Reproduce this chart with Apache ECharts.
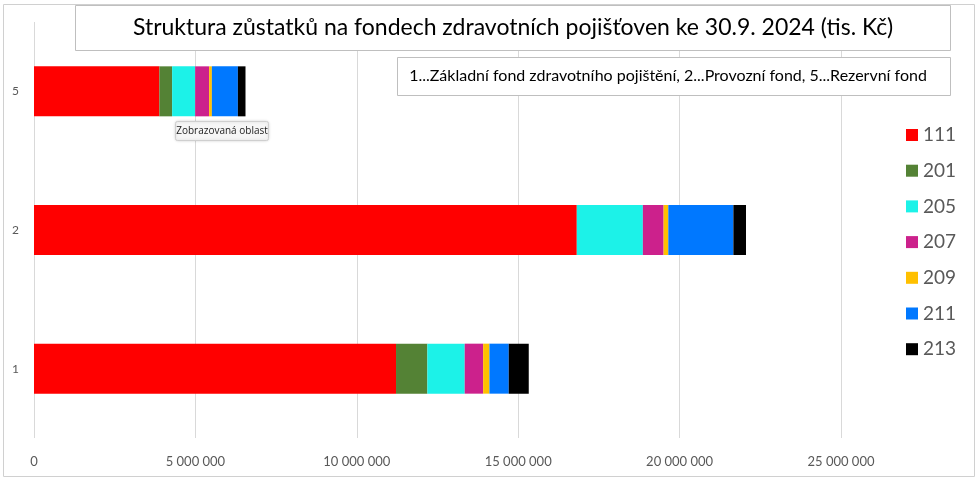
<!DOCTYPE html>
<html>
<head>
<meta charset="utf-8">
<script src="https://cdn.jsdelivr.net/npm/echarts@6/dist/echarts.min.js"></script>
<style>
html,body{margin:0;padding:0;background:#fff;}
#main{width:978px;height:484px;}
</style>
</head>
<body>
<div id="main"></div>
<script>
// Categories (bottom to top)
var categories = ['1', '2', '5'];
// Series names (fund account codes)
var seriesNames = ['111', '201', '205', '207', '209', '211', '213'];
// Values per series, for categories 1, 2, 5 (tis. Kč)
var s111 = [11215000, 16815000, 3885000];
var s201 = [971000, 0, 394000];
var s205 = [1157000, 2047000, 713000];
var s207 = [571000, 642000, 434000];
var s209 = [195000, 146000, 84000];
var s211 = [598000, 2016000, 806000];
var s213 = [620000, 391000, 236000];
// Axis ticks
var xTicks = [0, 5000000, 10000000, 15000000, 20000000, 25000000];

var titleText = 'Struktura zůstatků na fondech zdravotních pojišťoven ke 30.9. 2024 (tis. Kč)';
var noteText = '1...Základní fond zdravotního pojištění, 2...Provozní fond, 5...Rezervní fond';

var colors = ['#FF0000', '#548235', '#1CF2E8', '#CC218C', '#FFC000', '#0078FF', '#000000'];
var allData = [s111, s201, s205, s207, s209, s211, s213];

var chart = echarts.init(document.getElementById('main'));
var fmt = function (v) { return String(v).replace(/\B(?=(\d{3})+(?!\d))/g, ' '); };

var series = seriesNames.map(function (n, i) {
  return {
    name: n,
    type: 'bar',
    stack: 'total',
    barWidth: 50,
    itemStyle: { color: colors[i] },
    emphasis: { disabled: true },
    data: allData[i]
  };
});

chart.setOption({
  animation: false,
  textStyle: { fontFamily: 'Lato, "Open Sans", sans-serif' },
  grid: { left: 34, right: 137, top: 22, bottom: 46 },
  xAxis: {
    type: 'value',
    min: xTicks[0],
    max: xTicks[xTicks.length - 1],
    interval: xTicks[1] - xTicks[0],
    axisLine: { show: false },
    axisTick: { show: false },
    splitLine: { show: true, lineStyle: { color: '#d9d9d9', width: 1 } },
    axisLabel: { color: '#595959', fontSize: 13, margin: 17, formatter: fmt }
  },
  yAxis: {
    type: 'category',
    data: categories,
    axisLine: { show: false },
    axisTick: { show: false },
    splitLine: { show: false },
    axisLabel: { color: '#595959', fontSize: 12, margin: 15 }
  },
  legend: {
    orient: 'vertical',
    left: 901,
    top: 120,
    icon: 'rect',
    itemWidth: 12,
    itemHeight: 12,
    itemGap: 15.7,
    textStyle: { color: '#595959', fontSize: 19, lineHeight: 20 },
    data: seriesNames
  },
  graphic: [
    { type: 'rect', shape: { x: 3.5, y: 4.5, width: 971, height: 472 }, style: { fill: 'none', stroke: '#d0d0d0', lineWidth: 1 }, silent: true, z: 0 },
    { type: 'rect', shape: { x: 75.5, y: 5.5, width: 875, height: 45 }, style: { fill: '#fff', stroke: '#bfbfbf', lineWidth: 1 }, z: 10 },
    { type: 'text', x: 513, y: 28, style: { text: titleText, fill: '#000', font: '23px Lato, "Open Sans", sans-serif', align: 'center', verticalAlign: 'middle' }, z: 11 },
    { type: 'rect', shape: { x: 397.5, y: 57.5, width: 553, height: 38 }, style: { fill: '#fff', stroke: '#bfbfbf', lineWidth: 1 }, z: 10 },
    { type: 'text', x: 668, y: 76, style: { text: noteText, fill: '#000', font: '16px Lato, "Open Sans", sans-serif', align: 'center', verticalAlign: 'middle' }, z: 11 },
    { type: 'rect', shape: { x: 175.5, y: 121.5, width: 93, height: 19, r: 2 }, style: { fill: '#f6f6f6', stroke: '#cfcfcf', lineWidth: 1, shadowBlur: 3, shadowColor: 'rgba(0,0,0,0.15)' }, z: 12 },
    { type: 'text', x: 222, y: 131, style: { text: 'Zobrazovaná oblast', fill: '#222', font: '10px "Open Sans", sans-serif', align: 'center', verticalAlign: 'middle' }, z: 13 }
  ],
  series: series
});
</script>
</body>
</html>
